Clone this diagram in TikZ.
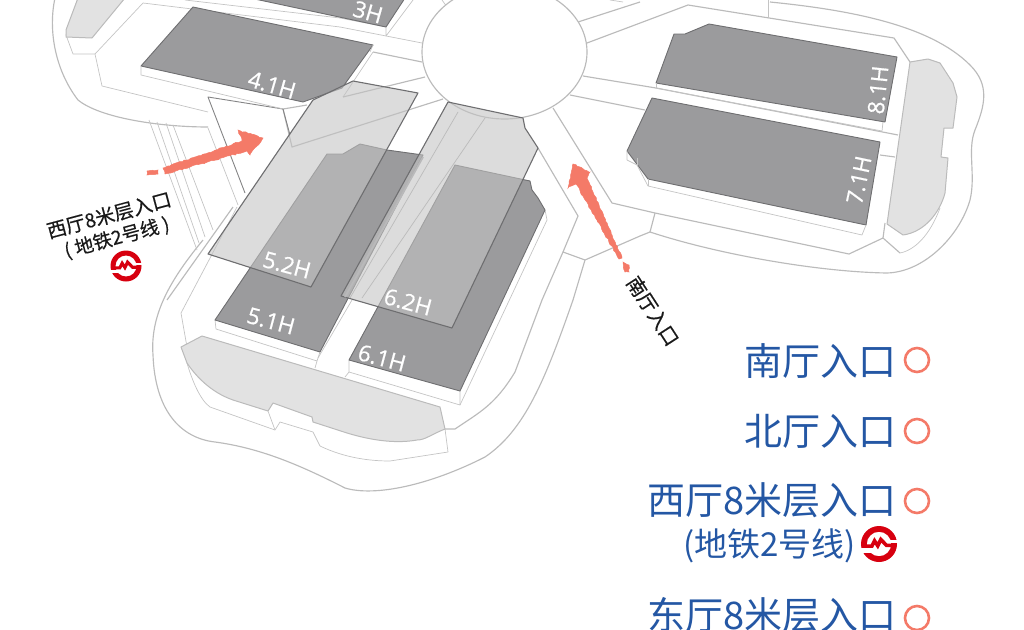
\documentclass[tikz,border=0pt]{standalone}
\usepackage{fontspec}
\usetikzlibrary{decorations.pathmorphing}
\setmainfont{Open Sans}
\newfontfamily\hallfont{Open Sans}[FakeBold=0.7]
\newfontfamily\cjk{Noto Sans CJK SC}
\newfontfamily\cjkm{Noto Sans CJK SC}[FakeBold=0.5]
\definecolor{hall}{HTML}{9B9B9D}
\definecolor{soft}{HTML}{E2E2E2}
\definecolor{rd}{HTML}{BBBBBB}
\definecolor{thin}{HTML}{C4C4C4}
\definecolor{edge}{HTML}{6E6E70}
\definecolor{over}{HTML}{C3C3C3}
\definecolor{arrowred}{HTML}{F47A68}
\definecolor{legendblue}{HTML}{2457A4}
\definecolor{metrored}{HTML}{D7000F}
\tikzset{
  road/.style={draw=rd,line width=1.15pt,line join=round},
  thinline/.style={draw=thin,line width=0.7pt,line join=round},
  hallbox/.style={fill=hall,draw=edge,line width=0.9pt,line join=round},
  softbox/.style={fill=soft,draw=rd,line width=1pt,line join=round},
  overlaybox/.style={fill=over,fill opacity=0.59,draw=edge,line width=1.1pt,line join=round},
  halllabel/.style={text=white,font=\hallfont\fontsize{22.5}{22.5}\selectfont,inner sep=0pt},
  maplabel/.style={text=black!90,font=\cjkm\fontsize{19.5}{20}\selectfont,inner sep=0pt},
  maplabelsub/.style={text=black!90,font=\cjkm\fontsize{19}{20}\selectfont,inner sep=0pt},
  legend/.style={text=legendblue,font=\cjk\fontsize{38}{38}\selectfont,inner sep=0pt,anchor=east},
  legendsub/.style={text=legendblue,font=\cjk\fontsize{33}{33}\selectfont,inner sep=0pt,anchor=east},
  ringmark/.style={circle,draw=arrowred,line width=2.6pt,minimum size=24pt,inner sep=0pt},
  redarrow/.style={fill=arrowred,draw=arrowred,line width=0.5pt,decorate,decoration={random steps,segment length=2.5pt,amplitude=0.7pt}},
}
\newcommand{\metrologo}[3]{%
  \begin{scope}[shift={(#1,#2)},scale=#3]
    \fill[metrored,even odd rule] (0,0) circle (1) (0,0) circle (0.68);
    \fill[white] (-1.1,0.24) rectangle (-0.3,0.48);
    \fill[white] (0.35,-0.22) rectangle (1.1,-0.04);
    \draw[metrored,line width=#3*0.2pt,line join=miter]
      (-0.95,0.12) -- (-0.4,0.12) -- (-0.25,-0.18) -- (-0.07,0.1) -- (0.1,-0.25) -- (0.42,0.08) -- (0.95,0.08);
  \end{scope}}
\begin{document}
\begin{tikzpicture}[x=1pt,y=-1pt]
\useasboundingbox (0,0) rectangle (1024,629);
\begin{scope}
\clip (0,0) rectangle (1024,629);
% outer outlines
\path[road] (55,-2) .. controls (48,30) and (55,70) .. (78,100) .. controls (100,118) and (160,127) .. (208,127);
\path[road] (233,207) -- (167,300);
\path[road] (203,240) .. controls (170,280) and (150,315) .. (153,355)
  .. controls (155,410) and (180,438) .. (215,442)
  .. controls (260,448) and (300,465) .. (345,488)
  .. controls (375,497) and (430,485) .. (485,457)
  .. controls (525,430) and (545,380) .. (573,300) -- (585,260)
  -- (640,236) -- (650,232)
  .. controls (720,255) and (820,272) .. (887,273)
  .. controls (925,272) and (960,235) .. (970,200)
  .. controls (976,175) and (967,150) .. (975,130)
  .. controls (985,105) and (990,85) .. (970,65)
  .. controls (930,25) and (850,10) .. (770,2);
% inner roads
\path[thinline] (78,-2) -- (66,35) -- (73,54) -- (95,54) -- (102,86) -- (208,112);
\path[thinline] (95,54) -- (143,3) -- (340,27) -- (422,43);
\path[thinline] (185,0) -- (340,18) -- (386,27);
\path[thinline] (149,120) -- (197,250);
\path[thinline] (157,122) -- (199,243);
\path[thinline] (166,123) -- (205,237);
\path[thinline] (173,125) -- (213,230);
\path[thinline] (208,128) -- (238,205);
\path[thinline] (237,207) -- (181,313) -- (187,347);
\path[thinline] (187,363) .. controls (192,380) and (200,400) .. (210,407) -- (275,430);
\path[road] (373,52) -- (422,62);
\path[thinline] (373,52) -- (343,97);
\path[road] (425,77) -- (343,97);
\path[road] (443,99) -- (292,147) -- (283,109) -- (307,105);
% east/south roads
\path[road] (578,22) -- (640,2);
\path[road] (587,43) -- (688,5) -- (894,38) -- (910,62);
\path[road] (583,76) -- (656,88);
\path[road] (570,95) -- (645,110);
\path[road] (553,108) -- (612,203) -- (655,213) -- (849,254) -- (883,238) -- (900,253);
\path[thinline] (900,253) .. controls (915,250) and (930,235) .. (940,208);
\path[road] (538,148) -- (578,216) -- (563,252) -- (585,260);
\path[road] (563,252) -- (542,300) -- (515,372) .. controls (495,405) and (480,412) .. (455,429) -- (445,429);
\path[road] (655,213) -- (650,232);
\path[thinline] (768,0) -- (768,18);
\path[thinline] (442,0) -- (447,7);
\path[thinline] (610,0) -- (623,2);
\path[road] (656,88) -- (898,135);
\path[road] (880,155) -- (895,157);
\path[thinline] (883,122) -- (882,131);
\path[road] (883,238) -- (885,223);
% central ellipse
\path[road,fill=white] (504.5,52) ellipse [x radius=82.5,y radius=67];
% west wedge
\path[draw=edge!85!white,line width=0.9pt,line join=round] (245,193) -- (208,97) -- (283,109) -- (290,135);
% soft shapes
\path[softbox] (78,-2) -- (66,30) -- (66,37) -- (92,38) -- (125,-2) -- cycle;
\path[softbox] (910,62) -- (928,59) -- (940,63) -- (953,83) -- (957,97) -- (953,128) -- (944,128)
  -- (941,157) -- (948,158) -- (945,193) .. controls (940,212) and (925,232) .. (903,235) -- (887,224) -- cycle;
\path[thinline] (268,411) -- (275,430) -- (280,422) -- (313,432) -- (320,446) .. controls (345,458) and (370,461) .. (390,461) -- (448,452) -- (445,429);
\path[softbox] (181,347) -- (202,336) -- (440,407) -- (445,429) .. controls (430,435) and (425,440) .. (417,440)
  .. controls (395,444) and (370,440) .. (347,433) -- (313,422) -- (312,417) -- (273,403) -- (268,411)
  -- (233,400) .. controls (210,392) and (195,375) .. (187,363) -- cycle;
% halls
\path[hallbox] (250,-2) -- (405,-2) -- (386,27) -- cycle;
\path[thinline] (386,27) -- (386,36) -- (413,0);
\path[hallbox] (193,7) -- (373,45) -- (342,88) -- (303,102) -- (141,66) -- cycle;
\path[thinline] (141,66) -- (141,75) -- (283,109);
\path[thinline] (373,45) -- (370,52);
\path[hallbox] (674,34) -- (685,34) -- (709,24) -- (897,57) -- (885,122) -- (656,83) -- cycle;
\path[thinline] (656,83) -- (656,88);
\path[thinline] (656,88) -- (882,131);
\path[hallbox] (652,98) -- (880,142) -- (866,225) -- (648,179) -- (627,151) -- cycle;
\path[thinline] (627,151) -- (627,160) -- (637,165) -- (648,186) -- (862,235) -- (866,225);
\path[thinline] (637,165) -- (637,158);
\path[thinline] (648,179) -- (648,186);
% 5.1
\path[thinline] (215,320) -- (216,329) -- (317,361) -- (320,352);
\path[thinline] (317,361) -- (315,368);
\path[hallbox] (215,320) -- (320,352) -- (423,155) -- (387,150) -- (360,144) -- (343,154) -- (327,154) -- cycle;
\path[thinline] (318,358) -- (352,300);
% 6.1
\path[thinline] (349,360) -- (349,372) -- (345,377);
\path[thinline] (349,372) -- (460,405) -- (460,391);
\path[thinline] (460,405) -- (547,220) -- (545,210);
\path[hallbox] (349,360) -- (460,391) -- (545,210) -- (538,198) -- (532,190) -- (530,181) -- (455,165) -- cycle;
% translucent upper floors
\path[overlaybox] (208,254) -- (313,100) -- (353,81) -- (418,93) -- (311,287) -- cycle;
\path[overlaybox] (448,102) -- (523,118) -- (525,128) -- (538,148) -- (452,328) -- (341,296) -- cycle;
\path[draw=rd,line width=0.7pt] (458,112) -- (350,298);
\path[draw=rd,line width=0.7pt] (485,118) -- (362,298);
\path[draw=hall!70!white,line width=1.8pt] (423,157) -- (345,297);
% red arrows
\path[redarrow] (163,168) -- (242,141) -- (238,130) -- (263,138) -- (250,155) -- (247,151) -- (165,174) -- cycle;
\path[redarrow] (147,171) -- (158,170) -- (158,174) -- (147,175) -- cycle;
\path[redarrow] (568,188) -- (573,164) -- (590,172) -- (587,178) -- (622,258) -- (619,259) -- (576,184) -- cycle;
\path[redarrow] (623,262) -- (629,265) -- (629,272) -- (625,272) -- cycle;
% map labels
\node[maplabel,rotate=15] (westlabel) at (109,215) {西厅8米层入口};
\node[maplabelsub,rotate=15] (westsub) at (117,238) {( 地铁2号线 )};
\node[maplabel,rotate=-57] (southlabel) at (653,311) {南厅入口};
\metrologo{126}{266}{15.5}
% hall labels
\node[halllabel,rotate=-16] (h41) at (272,85) {4.1H};
\node[halllabel,rotate=-16] (h3) at (368,12) {3H};
\node[halllabel,rotate=-15] (h52) at (287,265) {5.2H};
\node[halllabel,rotate=-15] (h51) at (271,321) {5.1H};
\node[halllabel,rotate=-15] (h62) at (408,302) {6.2H};
\node[halllabel,rotate=-15] (h61) at (382,358) {6.1H};
\node[halllabel,rotate=84] (h81) at (878,90) {8.1H};
\node[halllabel,rotate=78] (h71) at (859,180) {7.1H};
% legend
\node[legend] (l1) at (897,361) {南厅入口};
\node[legend] (l2) at (897,431) {北厅入口};
\node[legend] (l3) at (897,500) {西厅8米层入口};
\node[legendsub] (l3b) at (856,546) {(地铁2号线)};
\node[legend] (l4) at (897,615) {东厅8米层入口};
\node[ringmark] (r1) at (917,360) {};
\node[ringmark] (r2) at (917,431) {};
\node[ringmark] (r3) at (917,501) {};
\node[ringmark] (r4) at (917,618) {};
\metrologo{879}{544}{18}
\end{scope}
\end{tikzpicture}
\end{document}
